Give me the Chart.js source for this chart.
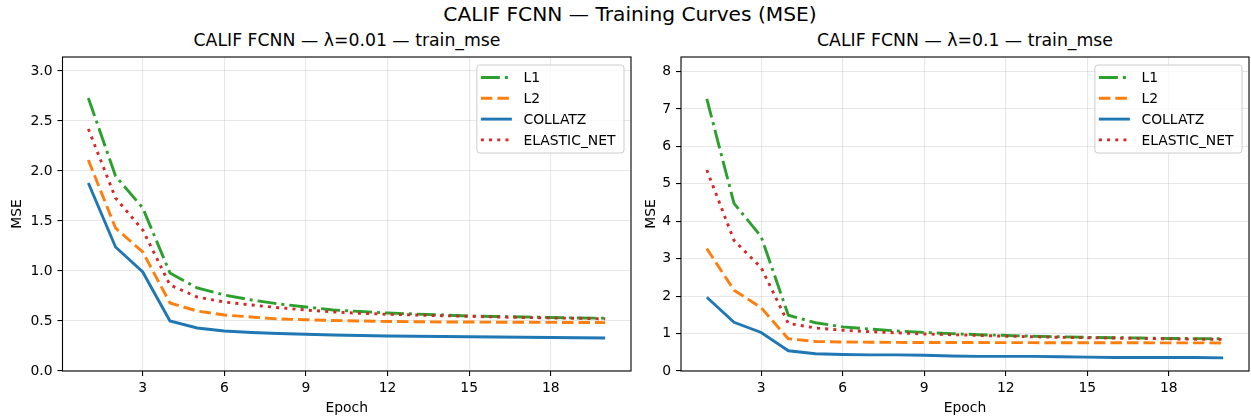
<!DOCTYPE html>
<html>
<head>
<meta charset="utf-8">
<script src="https://cdn.jsdelivr.net/npm/chart.js@4.4.1/dist/chart.umd.min.js"></script>
<style>
  html, body { margin: 0; padding: 0; background: #fff; }
  body { width: 1251px; height: 418px; position: relative; overflow: hidden; font-family: "DejaVu Sans", sans-serif; color: #000; }
  .title { position: absolute; text-align: center; white-space: nowrap; }
  #suptitle { left: 330px; width: 600px; top: 4px; font-size: 20.2px; line-height: 20px; }
  .sub { width: 600px; top: 32px; font-size: 17.3px; line-height: 17px; }
  canvas { position: absolute; }
</style>
</head>
<body>
<div id="suptitle" class="title">CALIF FCNN — Training Curves (MSE)</div>
<div class="title sub" style="left:47px">CALIF FCNN — λ=0.01 — train_mse</div>
<div class="title sub" style="left:665px">CALIF FCNN — λ=0.1 — train_mse</div>
<canvas id="left" width="640" height="375" style="left:0;top:43px"></canvas>
<canvas id="right" width="611" height="375" style="left:640px;top:43px"></canvas>
<script>
const epochs = [1, 2, 3, 4, 5, 6, 7, 8, 9, 10, 11, 12, 13, 14, 15, 16, 17, 18, 19, 20];
const seriesNames = ['L1', 'L2', 'COLLATZ', 'ELASTIC_NET'];

// lambda = 0.01
const l1Small = [2.73, 1.95, 1.63, 0.98, 0.83, 0.76, 0.71, 0.67, 0.64, 0.61, 0.595, 0.58, 0.57, 0.56, 0.55, 0.545, 0.54, 0.535, 0.53, 0.528];
const l2Small = [2.11, 1.43, 1.19, 0.68, 0.60, 0.56, 0.54, 0.52, 0.513, 0.505, 0.50, 0.495, 0.493, 0.49, 0.49, 0.488, 0.487, 0.486, 0.485, 0.484];
const collatzSmall = [1.88, 1.24, 0.99, 0.50, 0.43, 0.40, 0.385, 0.375, 0.368, 0.36, 0.355, 0.35, 0.348, 0.345, 0.342, 0.34, 0.337, 0.335, 0.333, 0.33];
const elasticSmall = [2.42, 1.73, 1.41, 0.86, 0.74, 0.69, 0.66, 0.633, 0.61, 0.59, 0.577, 0.567, 0.56, 0.553, 0.547, 0.54, 0.535, 0.53, 0.527, 0.522];

// lambda = 0.1
const l1Big = [7.27, 4.48, 3.59, 1.49, 1.29, 1.18, 1.12, 1.07, 1.03, 1.00, 0.97, 0.95, 0.93, 0.915, 0.90, 0.89, 0.88, 0.87, 0.865, 0.86];
const l2Big = [3.27, 2.16, 1.69, 0.86, 0.79, 0.775, 0.77, 0.765, 0.76, 0.76, 0.76, 0.758, 0.757, 0.756, 0.755, 0.754, 0.753, 0.752, 0.751, 0.75];
const collatzBig = [1.97, 1.30, 1.03, 0.54, 0.46, 0.44, 0.43, 0.43, 0.42, 0.40, 0.39, 0.39, 0.39, 0.38, 0.37, 0.36, 0.36, 0.36, 0.36, 0.35];
const elasticBig = [5.37, 3.49, 2.76, 1.27, 1.15, 1.09, 1.05, 1.02, 0.99, 0.97, 0.95, 0.93, 0.915, 0.90, 0.89, 0.88, 0.87, 0.86, 0.85, 0.845];

const xTickLabels = ['3', '6', '9', '12', '15', '18'];
const yTickLabelsSmall = ['0.0', '0.5', '1.0', '1.5', '2.0', '2.5', '3.0'];
const yTickLabelsBig = ['0', '1', '2', '3', '4', '5', '6', '7', '8'];

const FONT = 'DejaVu Sans';
const LW = 2.9;
const styles = [
  { color: '#2ca02c', dash: [19, 5, 3, 5] },
  { color: '#ff7f0e', dash: [11.5, 5] },
  { color: '#1f77b4', dash: [] },
  { color: '#d62728', dash: [3, 5.2] }
];

Chart.defaults.color = '#000';
Chart.defaults.font.family = FONT;

// black frame round the plot area, like matplotlib spines
const framePlugin = {
  id: 'frame',
  afterDatasetsDraw(chart) {
    const { ctx, chartArea: a } = chart;
    ctx.save();
    ctx.strokeStyle = '#000';
    ctx.lineWidth = 1.1;
    ctx.strokeRect(a.left, a.top, a.right - a.left, a.bottom - a.top);
    ctx.restore();
  }
};

// legend box in the upper right corner of the plot area
const legendPlugin = {
  id: 'boxLegend',
  afterDraw(chart) {
    const { ctx, chartArea: a } = chart;
    const sets = chart.data.datasets;
    const fs = 13.9, row = 20.8;
    ctx.save();
    ctx.font = fs + 'px "' + FONT + '"';
    const textW = Math.max(...sets.map(d => ctx.measureText(d.label).width));
    const w = 46.6 + textW + 8.5;
    const h = 88;
    const right = a.right - 7, top = a.top + 8;
    const left = right - w;
    ctx.beginPath();
    ctx.roundRect(left, top, w, h, 3);
    ctx.fillStyle = 'rgba(255,255,255,0.8)';
    ctx.fill();
    ctx.strokeStyle = '#cccccc';
    ctx.lineWidth = 1;
    ctx.stroke();
    sets.forEach((d, i) => {
      const y = top + 12.5 + i * row;
      ctx.beginPath();
      ctx.setLineDash(d.borderDash || []);
      ctx.strokeStyle = d.borderColor;
      ctx.lineWidth = d.borderWidth;
      ctx.moveTo(left + 4, y);
      ctx.lineTo(left + 35, y);
      ctx.stroke();
      ctx.setLineDash([]);
      ctx.fillStyle = '#000';
      ctx.textBaseline = 'middle';
      ctx.fillText(d.label, left + 46.6, y + 1);
    });
    ctx.restore();
  }
};

function makeChart(id, values, yLabels, yMax, yWidth, padRight, titlePad) {
  const datasets = values.map((vals, i) => ({
    label: seriesNames[i],
    data: epochs.map((e, j) => ({ x: e, y: vals[j] })),
    borderColor: styles[i].color,
    borderDash: styles[i].dash,
    borderWidth: LW,
    pointRadius: 0,
    tension: 0,
    fill: false,
    order: values.length - i
  }));
  return new Chart(document.getElementById(id), {
    type: 'line',
    data: { datasets },
    plugins: [framePlugin, legendPlugin],
    options: {
      responsive: false,
      animation: false,
      events: [],
      layout: { padding: { top: 14, right: padRight, bottom: 0, left: 0 } },
      plugins: {
        legend: { display: false },
        tooltip: { enabled: false },
        title: { display: false }
      },
      scales: {
        x: {
          type: 'linear',
          min: 0.05,
          max: 20.95,
          afterBuildTicks: s => { s.ticks = xTickLabels.map(t => ({ value: parseFloat(t) })); },
          afterFit: s => { s.height = 47; },
          ticks: { font: { size: 13.9 }, padding: 4, maxRotation: 0, autoSkip: false, callback: v => String(v) },
          grid: { color: 'rgba(176,176,176,0.3)', lineWidth: 1.1, tickColor: '#000', tickLength: 5, tickWidth: 1.1 },
          border: { display: false },
          title: { display: true, text: 'Epoch', font: { size: 13.9 }, padding: { top: 0, bottom: 1 } }
        },
        y: {
          type: 'linear',
          min: 0,
          max: yMax,
          afterBuildTicks: s => { s.ticks = yLabels.map(t => ({ value: parseFloat(t) })); },
          afterFit: s => { s.width = yWidth; },
          ticks: {
            font: { size: 13.9 }, padding: 5, autoSkip: false,
            callback: v => yLabels.find(t => parseFloat(t) === v) || ''
          },
          grid: { color: 'rgba(176,176,176,0.3)', lineWidth: 1.1, tickColor: '#000', tickLength: 5, tickWidth: 1.1 },
          border: { display: false },
          title: { display: true, text: 'MSE', font: { size: 13.9 }, padding: { top: titlePad, bottom: 0 } }
        }
      }
    }
  });
}

makeChart('left', [l1Small, l2Small, collatzSmall, elasticSmall], yTickLabelsSmall, 3.14, 62.5, 9, 9.4);
makeChart('right', [l1Big, l2Big, collatzBig, elasticBig], yTickLabelsBig, 8.39, 41, 2, 2.7);
</script>
</body>
</html>
